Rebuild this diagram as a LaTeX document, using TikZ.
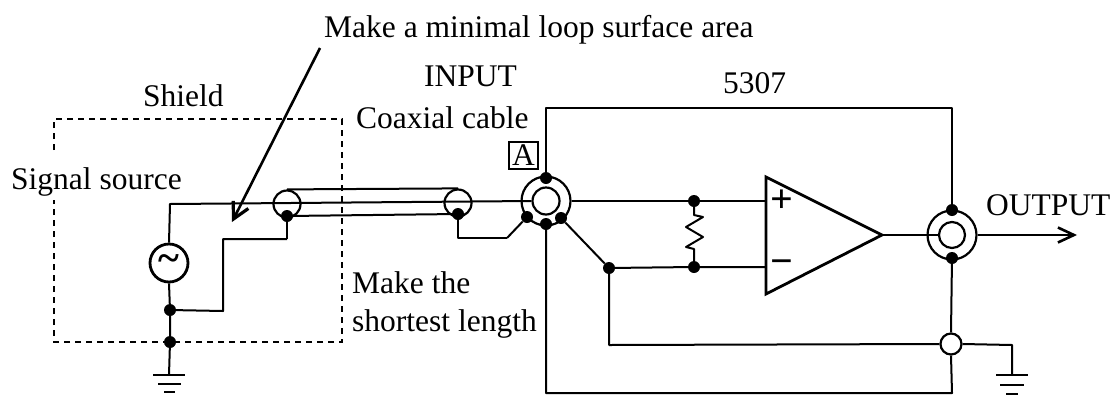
\documentclass[tikz,border=0pt]{standalone}
\usepackage{fontspec}
\setmainfont{Liberation Serif}
\usetikzlibrary{arrows.meta}
\tikzset{
  wire/.style={line width=2pt,line join=round},
  thick wire/.style={line width=2.8pt,line join=miter},
  dotnode/.style={circle,fill=black,inner sep=0pt,minimum size=12pt},
  coaxring/.style={circle,draw,line width=2.2pt,fill=white,inner sep=0pt,minimum size=#1},
  label/.style={inner sep=0pt,anchor=base west,font=\fontsize{31.5}{36}\selectfont},
  sign/.style={inner sep=0pt,font=\fontsize{40}{42}\selectfont\bfseries},
  shieldbox/.style={line width=2pt,dash pattern=on 6pt off 5pt},
  gndbar/.style={line width=2.8pt}
}
\begin{document}
\begin{tikzpicture}[x=1pt,y=-1pt]
\useasboundingbox (0,0) rectangle (1118,397);
\fill[white] (0,0) rectangle (1118,397);

% shield (open on the left, where the label "Signal source" crosses it)
\coordinate (s1) at (54,150);
\coordinate (s2) at (54,119);
\coordinate (s3) at (342,119);
\coordinate (s4) at (342,342);
\coordinate (s5) at (54,342);
\coordinate (s6) at (54,200);
\draw[shieldbox] (s1) -- (s2) -- (s3) -- (s4) -- (s5) -- (s6);

% coordinates
\coordinate (c1) at (170,204);
\coordinate (r1) at (223,311);
\coordinate (r2) at (223,239);
\coordinate (r3) at (287,239);
\coordinate (g1) at (169,375);
\coordinate (l1) at (458,238);
\coordinate (l2) at (507,238);
\coordinate (boxtl) at (546,108);
\coordinate (boxtr) at (952,108);
\coordinate (boxbl) at (546,393);
\coordinate (boxbr) at (952,393);
\coordinate (fb) at (609,345);
\coordinate (gr) at (1012,345);
\coordinate (g2) at (1012,375);
\coordinate (outend) at (1077,235);
\coordinate (arrowstart) at (320,48);
\coordinate (arrowtip) at (232,222);
\coordinate (oa) at (766,177);
\coordinate (ob) at (766,294);
\coordinate (oc) at (882,235);
\coordinate (oplus) at (766,201);
\coordinate (ominus) at (766,267);

% nodes
\node[dotnode] (n1) at (694,201) {};
\node[dotnode] (n2) at (694,267) {};
\node[dotnode] (n3) at (609,268) {};
\node[dotnode] (d1) at (170,310) {};
\node[dotnode] (d2) at (170,342) {};

% signal path
\node[coaxring=38pt,line width=2.8pt] (src) at (169,263) {};
\node[inner sep=0pt,font=\fontsize{40}{42}\selectfont\bfseries] at (src.center) {\char"007E};
\node[coaxring=27pt] (cl) at (287,204) {};
\node[coaxring=27pt] (cr) at (458,203) {};
\node[coaxring=49pt] (Aout) at (546,201) {};
\node[coaxring=27pt] (Ain) at (546,201) {};
\node[coaxring=49pt] (Bout) at (952,235) {};
\node[coaxring=26pt] (Bin) at (952,235) {};
\node[coaxring=21pt] (Gnd) at (951,344) {};

% coax cable
\draw[wire] (cl.north) -- (cr.north);
\node[dotnode] (cd1) at (287,216) {};
\node[dotnode] (cd2) at (458,214) {};
\draw[wire] (cd1) -- (cd2);

\draw[wire] (src.north) -- (c1) -- (Ain.west);
\draw[wire] (Aout.east) -- (n1) -- (oplus);
\draw[wire] (src.south) -- (d1);
\draw[wire] (d1) -- (d2) -- (g1);
\draw[wire] (d1) -- (r1) -- (r2) -- (r3);
\draw[wire] (r3) -- (cd1);
\draw[wire] (cd2) -- (l1) -- (l2);

% connector A dots
\node[dotnode] (At) at (546,178) {};
\node[dotnode] (Ab) at (546,224) {};
\node[dotnode] (Al) at (527,217) {};
\node[dotnode] (Ar) at (561,218) {};
\node[dotnode] (Bt) at (952,210) {};
\node[dotnode] (Bb) at (952,258) {};
\draw[wire] (l2) -- (Al);
\draw[wire] (Ar) -- (n3);
\draw[wire] (n3) -- (n2) -- (ominus);

% box
\draw[wire] (At) -- (boxtl) -- (boxtr) -- (Bt);
\draw[wire] (Ab) -- (boxbl) -- (boxbr) -- (Gnd.south);

% resistor
\draw[wire] (n1) -- (694,215) -- (703,217) -- (686,227) -- (703,237) -- (686,247) -- (694,249) -- (n2);

% feedback
\draw[wire] (n3) -- (fb) -- (Gnd.west);
\draw[wire] (Gnd.east) -- (gr) -- (g2);

% op amp
\draw[thick wire,fill=white] (oa) -- (oc) -- (ob) -- cycle;
\node[sign] (plus) at (782,201) {+};
\node[sign] (minus) at (782,267) {−};

% output
\draw[wire] (Bb) -- (Gnd.north);
\draw[wire] (oc) -- (Bin.west);
\draw[wire,-{Straight Barb[length=16pt,width=15pt,line width=2.6pt]}] (Bout.east) -- (outend);

% grounds
\draw[gndbar] (153,375) -- (185,375) (158,384) -- (181,384) (164,392) -- (175,392);
\draw[gndbar] (996,375) -- (1028,375) (1000,385) -- (1024,385) (1006,394) -- (1018,394);

% long arrow
\draw[line width=2.6pt,-{Straight Barb[length=16pt,width=17pt,line width=3.2pt]}] (arrowstart) -- (arrowtip);

% labels
\node[label] (t1) at (324,37) {Make a minimal loop surface area};
\node[label] (t2) at (424,86) {INPUT};
\node[label] (t3) at (143,106) {Shield};
\node[label] (t4) at (723,93) {5307};
\node[label] (t5) at (356,128) {Coaxial cable};
\node[label] (t6) at (11,189) {Signal source};
\node[label] (t7) at (352,293) {Make the};
\node[label] (t8) at (352,331) {shortest length};
\node[label] (t9) at (986,215) {OUTPUT};
\node[draw,line width=1.2pt,minimum width=29pt,minimum height=27pt,inner sep=0pt,font=\fontsize{31.5}{36}\selectfont] (tA) at (523.5,155.5) {A};
\end{tikzpicture}
\end{document}
